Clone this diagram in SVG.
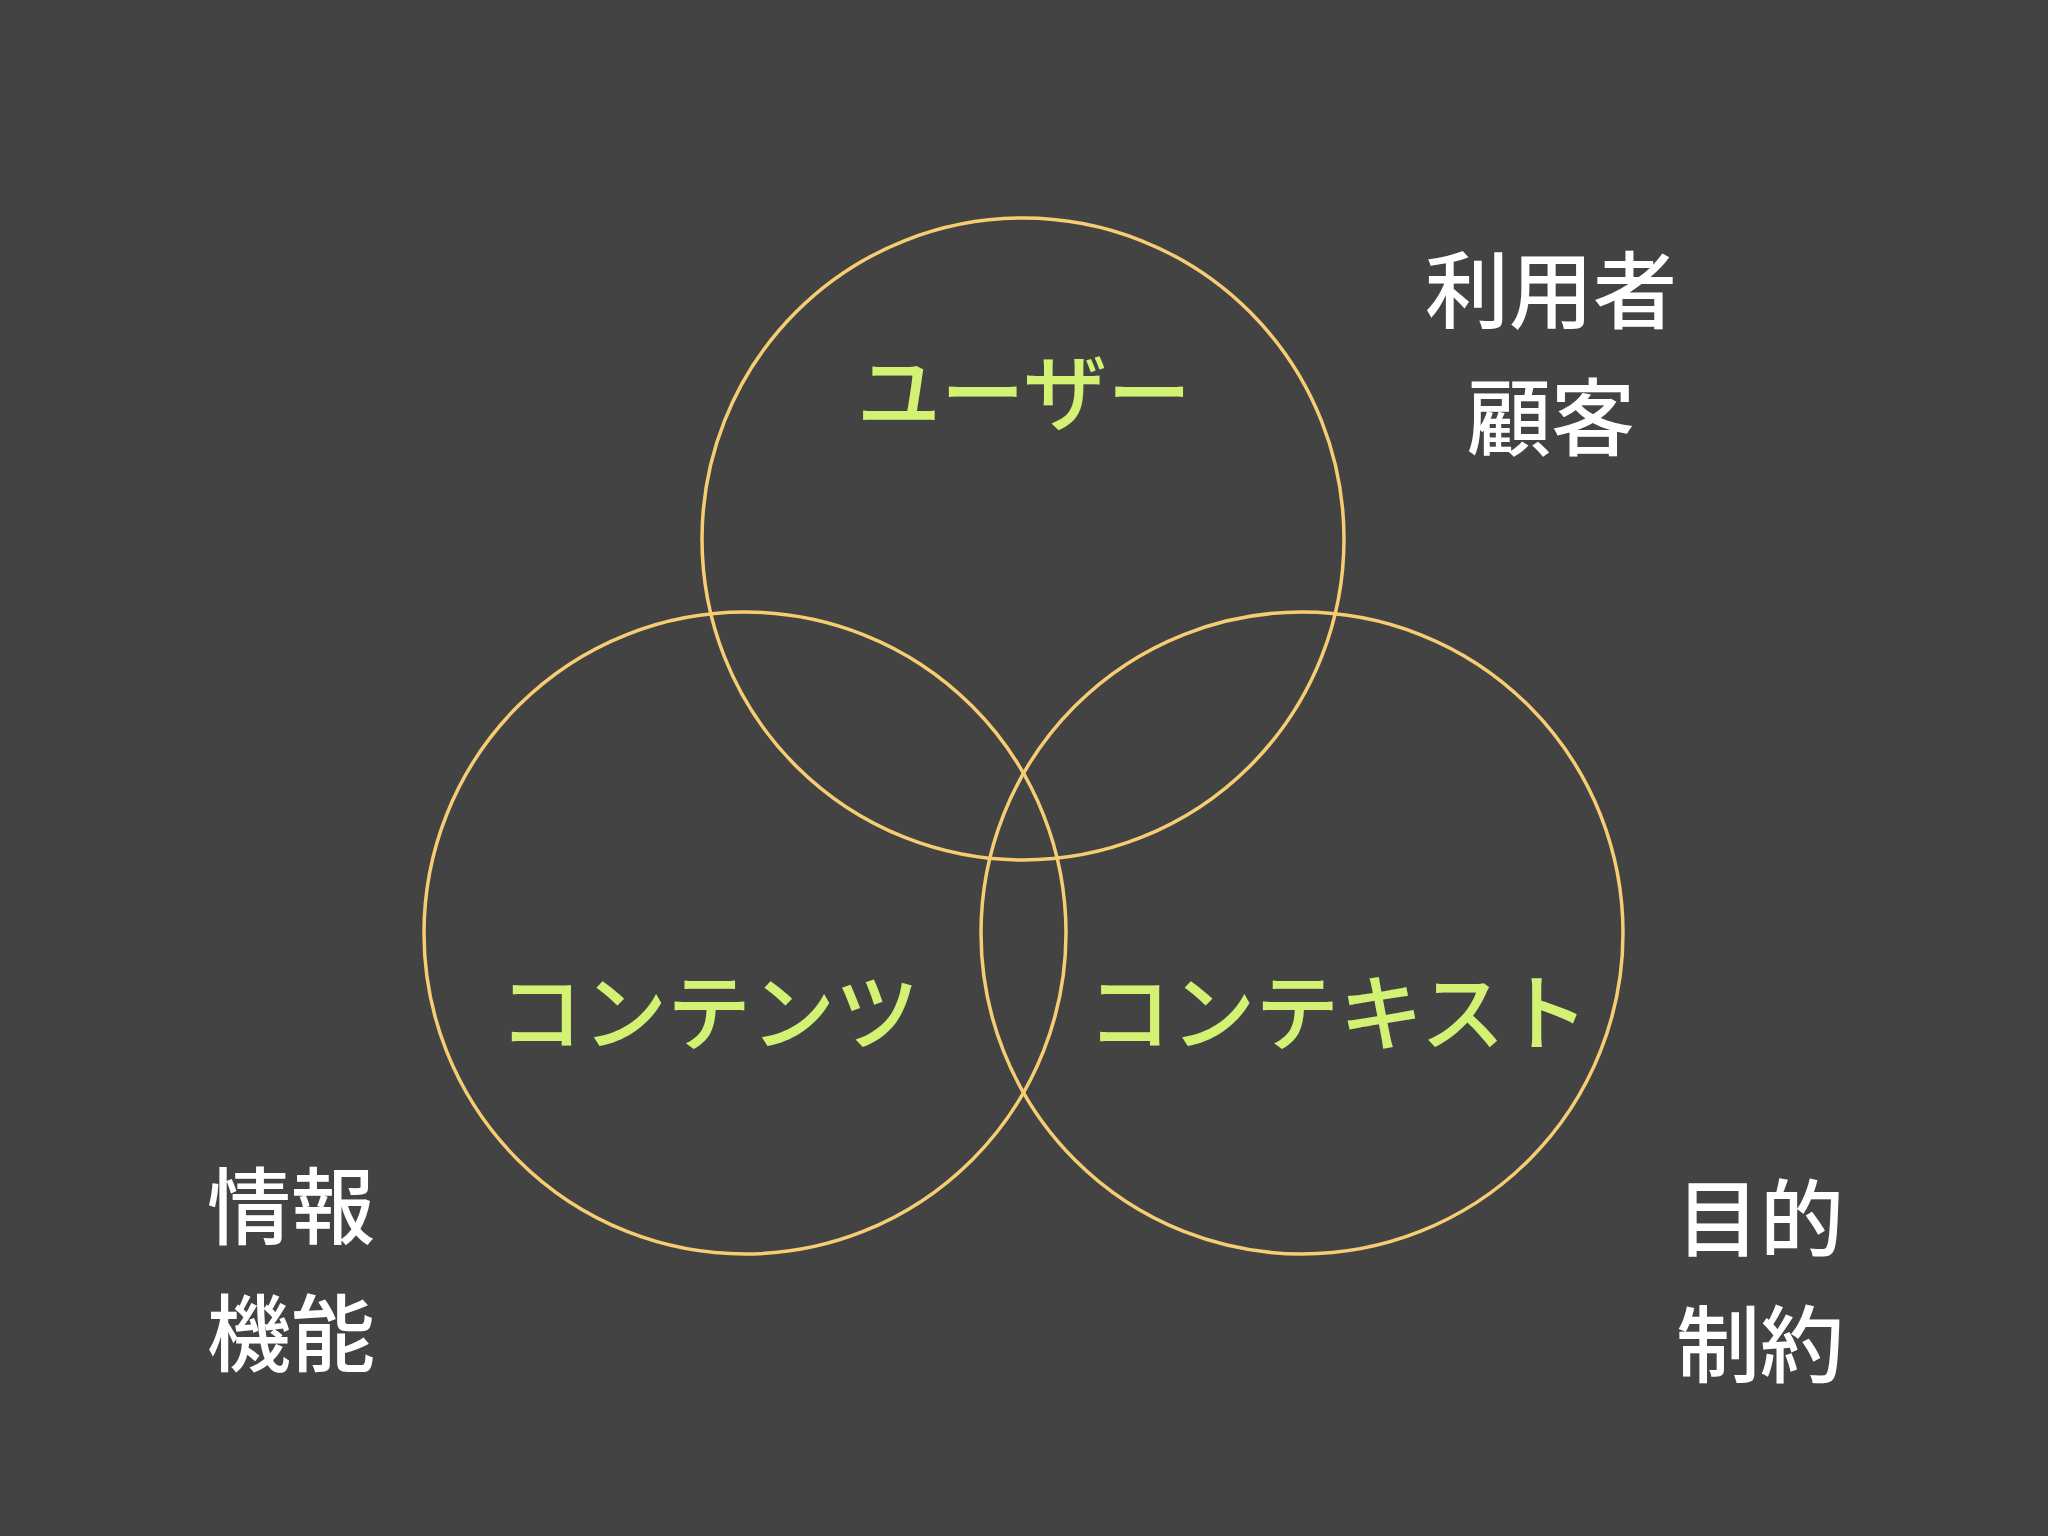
<svg xmlns="http://www.w3.org/2000/svg" width="2048" height="1536" viewBox="0 0 2048 1536">
<style>
.c{fill:none;stroke:#f6cd72;stroke-width:3.5}
.g{font-family:"Noto Sans CJK JP","Noto Sans",sans-serif;font-size:84px;font-weight:500;fill:#d3f274;text-anchor:middle}
.w{font-family:"Noto Sans CJK JP","Noto Sans",sans-serif;font-size:84px;font-weight:500;fill:#ffffff;text-anchor:middle}
</style>
<rect width="2048" height="1536" fill="#434343"/>
<g id="user"><circle class="c" cx="1023" cy="539" r="321"/><text class="g" x="1024" y="424">ユーザー</text></g>
<g id="content"><circle class="c" cx="745" cy="933" r="321"/><text class="g" x="709" y="1044">コンテンツ</text></g>
<g id="context"><circle class="c" cx="1302" cy="933" r="321"/><text class="g" x="1338" y="1044">コンテキスト</text></g>
<g id="label-user"><text class="w" x="1551" y="322">利用者</text><text class="w" x="1551" y="449">顧客</text></g>
<g id="label-content"><text class="w" x="291" y="1238">情報</text><text class="w" x="291" y="1365">機能</text></g>
<g id="label-context"><text class="w" x="1760" y="1250">目的</text><text class="w" x="1760" y="1376">制約</text></g>
<g id="connectors"></g>
</svg>
